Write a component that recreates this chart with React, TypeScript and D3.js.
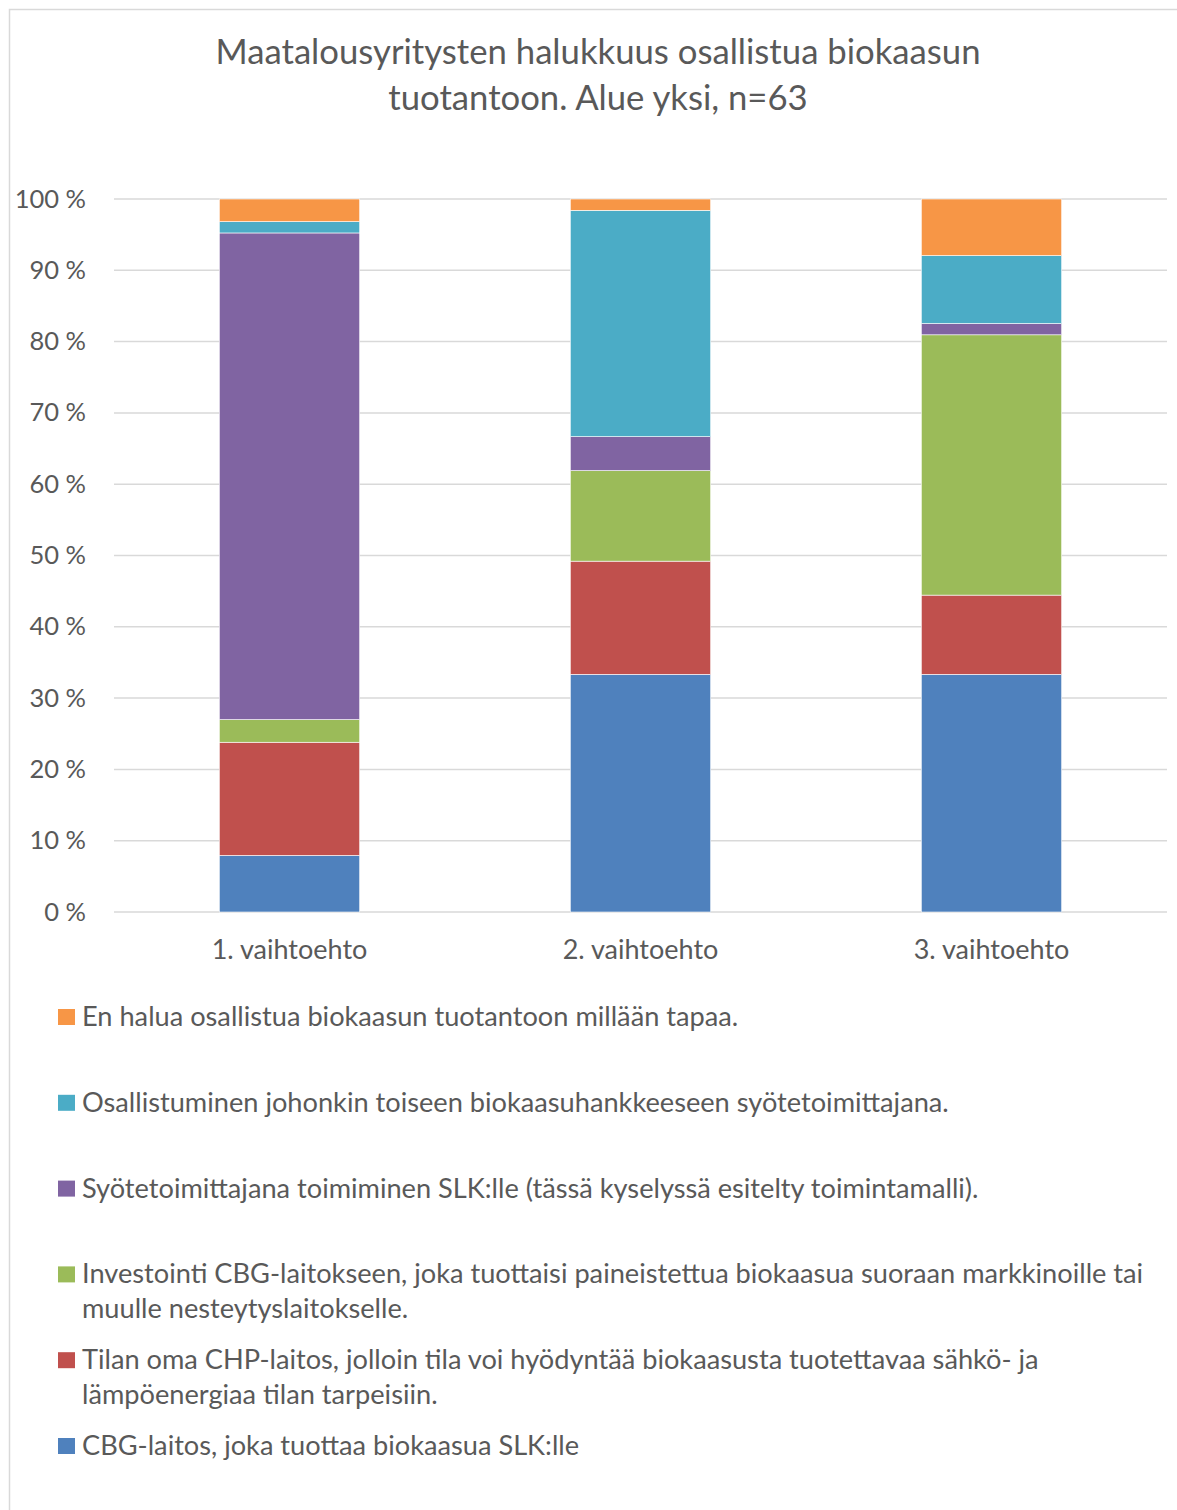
import React from "react";
import * as d3 from "d3";

// Survey answers per option (respondent counts, n = 63 in each column)
const categories = ["1. vaihtoehto", "2. vaihtoehto", "3. vaihtoehto"];
const respondents = 63;

const cbgSlk = [5, 21, 21];
const chpOwn = [10, 10, 7];
const cbgInvest = [2, 8, 23];
const feedSlk = [43, 3, 1];
const feedOther = [1, 20, 6];
const noInterest = [2, 1, 5];

const seriesKeys = ["cbgSlk", "chpOwn", "cbgInvest", "feedSlk", "feedOther", "noInterest"];
const seriesValues = [cbgSlk, chpOwn, cbgInvest, feedSlk, feedOther, noInterest];
const seriesColors = ["#4F81BD", "#C0504D", "#9BBB59", "#8064A2", "#4BACC6", "#F79646"];
const seriesLabels = [
  ["CBG-laitos, joka tuottaa biokaasua SLK:lle"],
  ["Tilan oma CHP-laitos, jolloin tila voi hyödyntää biokaasusta tuotettavaa sähkö- ja", "lämpöenergiaa tilan tarpeisiin."],
  ["Investointi CBG-laitokseen, joka tuottaisi paineistettua biokaasua suoraan markkinoille tai", "muulle nesteytyslaitokselle."],
  ["Syötetoimittajana toimiminen SLK:lle (tässä kyselyssä esitelty toimintamalli)."],
  ["Osallistuminen johonkin toiseen biokaasuhankkeeseen syötetoimittajana."],
  ["En halua osallistua biokaasun tuotantoon millään tapaa."],
];

const yTicks = [0, 0.1, 0.2, 0.3, 0.4, 0.5, 0.6, 0.7, 0.8, 0.9, 1];
const titleLines = ["Maatalousyritysten halukkuus osallistua biokaasun", "tuotantoon. Alue yksi, n=63"];

const W = 1177;
const H = 1510;
const FONT = "Lato, 'Open Sans', sans-serif";
const TEXT = "#595959";
const GRID = "#D9D9D9";

export default function App() {
  const rows = categories.map((c, i) => {
    const r: Record<string, number | string> = { category: c };
    seriesKeys.forEach((k, j) => (r[k] = seriesValues[j][i] / respondents));
    return r;
  });
  const stacked = d3.stack<any>().keys(seriesKeys).offset(d3.stackOffsetExpand)(rows);

  const x = d3.scaleBand<string>().domain(categories).range([114, 1167]).paddingInner(0.6).paddingOuter(0.3);
  const y = d3.scaleLinear().domain([0, 1]).range([912, 199]);
  const pct = d3.format(".0%");

  const legendTop = 1026;
  const legendStep = 85.8;
  const legendOrder = d3.range(seriesKeys.length).reverse();

  return (
    <svg width={W} height={H} style={{ position: "absolute", left: 0, top: 0, display: "block" }} fontFamily={FONT}>
      <rect x={0} y={0} width={W} height={H} fill="#fff" />
      <rect x={9.5} y={9.5} width={W + 20} height={H + 20} fill="none" stroke={GRID} strokeWidth={1.5} />

      {titleLines.map((t, i) => (
        <text key={t} x={598} y={64 + i * 46} textAnchor="middle" fontSize={34.7} fill={TEXT}>
          {t}
        </text>
      ))}

      {yTicks.map((t) => (
        <g key={t}>
          <line x1={114} x2={1167} y1={y(t)} y2={y(t)} stroke={GRID} strokeWidth={1.5} />
          <text x={86} y={y(t) + 8.5} textAnchor="end" fontSize={25.5} fill={TEXT}>
            {pct(t).replace("%", " %")}
          </text>
        </g>
      ))}

      {stacked.map((s, j) => (
        <g key={s.key} fill={seriesColors[j]}>
          {s.map((d, i) => (
            <rect
              key={i}
              x={x(categories[i])}
              width={x.bandwidth()}
              y={y(d[1])}
              height={y(d[0]) - y(d[1])}
              stroke="#fff"
              strokeWidth={0.6}
            />
          ))}
        </g>
      ))}

      {categories.map((c) => (
        <text key={c} x={(x(c) ?? 0) + x.bandwidth() / 2} y={959} textAnchor="middle" fontSize={27} fill={TEXT}>
          {c}
        </text>
      ))}

      {legendOrder.map((j, k) => {
        const base = legendTop + k * legendStep;
        return (
          <g key={seriesKeys[j]}>
            <rect x={58} y={base - 17} width={17} height={16} fill={seriesColors[j]} />
            {seriesLabels[j].map((line, li) => (
              <text key={li} x={82} y={base + li * 35} fontSize={27.2} fill={TEXT}>
                {line}
              </text>
            ))}
          </g>
        );
      })}
    </svg>
  );
}
